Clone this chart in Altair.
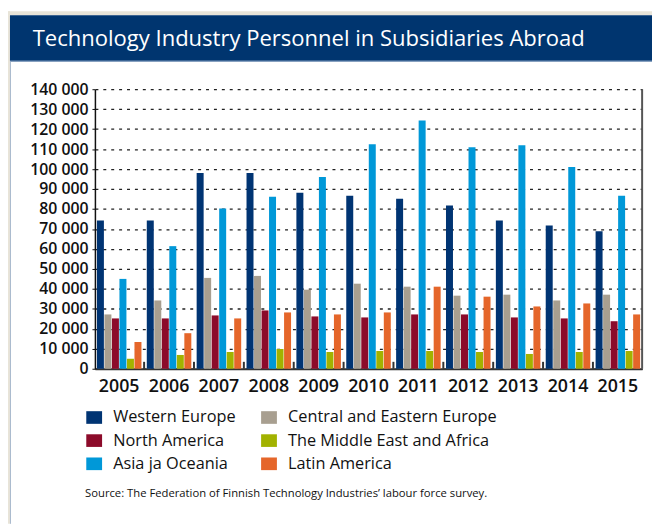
import altair as alt
import pandas as pd

years = ["2005", "2006", "2007", "2008", "2009", "2010", "2011", "2012", "2013", "2014", "2015"]
western_europe = [74300, 74300, 98000, 98000, 88100, 86600, 85100, 81700, 74300, 71800, 68800]
central_eastern_europe = [27200, 34200, 45500, 46500, 39600, 42600, 41100, 36600, 37100, 34200, 37100]
north_america = [25200, 25200, 26700, 29200, 26200, 25700, 27200, 27200, 25700, 25200, 23800]
asia_oceania = [45000, 61400, 80200, 86100, 96000, 112400, 124300, 110900, 111900, 101000, 86600]
middle_east_africa = [5000, 6900, 8400, 9900, 8400, 8900, 8900, 8400, 7400, 8400, 8900]
latin_america = [13400, 17800, 25200, 28200, 27200, 28200, 41100, 36100, 31200, 32700, 27200]

series = {
    "Western Europe": western_europe,
    "Central and Eastern Europe": central_eastern_europe,
    "North America": north_america,
    "Asia ja Oceania": asia_oceania,
    "The Middle East and Africa": middle_east_africa,
    "Latin America": latin_america,
}
bar_order = list(series.keys())
legend_order = ["Western Europe", "North America", "Asia ja Oceania",
                "Central and Eastern Europe", "The Middle East and Africa", "Latin America"]
color_map = {
    "Western Europe": "#003473",
    "Central and Eastern Europe": "#a89f90",
    "North America": "#8c0b2a",
    "Asia ja Oceania": "#0098d8",
    "The Middle East and Africa": "#a2b200",
    "Latin America": "#e5662a",
}

title_text = "Technology Industry Personnel in Subsidiaries Abroad"
source_text = "Source: The Federation of Finnish Technology Industries\u2019 labour force survey."

rows = []
for name, vals in series.items():
    for y, v in zip(years, vals):
        rows.append({"year": y, "region": name, "value": v})
df = pd.DataFrame(rows)

W, H = 554, 283
FONT = "Open Sans"

x_axis = alt.Axis(title=None, labelAngle=0, labelFontSize=18, labelFont=FONT, labelColor="#111",
                  labelFontWeight=600, ticks=False, labelPadding=9, domainColor="#333",
                  domainWidth=2, grid=False)
x_scale = alt.Scale(paddingInner=0.107, paddingOuter=0.04)

one = pd.DataFrame({"k": [0]})

beige_top = alt.Chart(one).mark_rect(color="#e8e4d8").encode(
    x=alt.value(-88), x2=alt.value(W + 10), y=alt.value(-79), y2=alt.value(-75))
beige_left = alt.Chart(one).mark_rect(color="#e8e4d8").encode(
    x=alt.value(-88), x2=alt.value(-86), y=alt.value(-79), y2=alt.value(H + 157))
band = alt.Chart(one).mark_rect(color="#00356f").encode(
    x=alt.value(-86), x2=alt.value(W + 10), y=alt.value(-75), y2=alt.value(-28))
band_line = alt.Chart(one).mark_rule(color="#8fa8c8", strokeWidth=1).encode(
    x=alt.value(-86), x2=alt.value(W + 10), y=alt.value(-28.5))
left_line = alt.Chart(one).mark_rule(color="#a8b8cc", strokeWidth=1).encode(
    x=alt.value(-85.5), y=alt.value(-28), y2=alt.value(H + 157))

title = alt.Chart(pd.DataFrame({"t": [title_text]})).mark_text(
    align="left", baseline="alphabetic", fontSize=22.3, font=FONT, color="white").encode(
    text="t:N", x=alt.value(-63), y=alt.value(-43.5))
source = alt.Chart(pd.DataFrame({"t": [source_text]})).mark_text(
    align="left", baseline="alphabetic", fontSize=11.4, font=FONT, color="#111").encode(
    text="t:N", x=alt.value(-10), y=alt.value(413))

bars = alt.Chart(df).mark_bar().encode(
    x=alt.X("year:N", sort=years, scale=x_scale, axis=x_axis),
    xOffset=alt.XOffset("region:N", sort=bar_order, scale=alt.Scale(paddingInner=0.07)),
    y=alt.Y("value:Q", scale=alt.Scale(domain=[0, 140000], nice=False),
            axis=alt.Axis(title=None, values=list(range(0, 140001, 10000)),
                          labelExpr="replace(format(datum.value, ','), /,/g, ' ')",
                          labelFontSize=16, labelFont=FONT, labelColor="#111", labelFontWeight=600,
                          tickSize=3, tickColor="#111", labelPadding=4,
                          domainColor="#111", domainWidth=1.5,
                          grid=True, gridColor="#222", gridDash=[3, 5], gridWidth=1.3)),
    color=alt.Color("region:N", sort=legend_order,
                    scale=alt.Scale(domain=legend_order, range=[color_map[k] for k in legend_order]),
                    legend=alt.Legend(orient="none", legendX=-9, legendY=324, columns=2, title=None,
                                      symbolType="M-1,-0.8H1V0.8H-1Z", symbolSize=256,
                                      symbolStrokeWidth=0, symbolOpacity=1,
                                      labelFontSize=16.5, labelFont=FONT, labelColor="#111",
                                      labelOffset=11, columnPadding=25, rowPadding=6.5,
                                      labelLimit=400, padding=0)),
)

ticks = alt.Chart(pd.DataFrame({"year": years[1:]})).mark_rule(
    color="#333", strokeWidth=2, xOffset=-2.7).encode(
    x=alt.X("year:N", sort=years, scale=x_scale, axis=x_axis, bandPosition=0),
    y=alt.value(H - 7), y2=alt.value(H))

right_line = alt.Chart(one).mark_rule(color="#555", strokeWidth=2).encode(
    x=alt.value(W), y=alt.value(0), y2=alt.value(H))

chart = alt.layer(beige_top, beige_left, band, band_line, left_line, bars, ticks, right_line,
                  title, source).properties(
    width=W, height=H,
    autosize=alt.AutoSizeParams(type="none"),
    padding={"left": 88, "top": 79, "right": 10, "bottom": 157},
).configure(background="white", font=FONT).configure_view(stroke=None)

chart.save("out.html", embed_options={"renderer": "svg", "actions": False})
